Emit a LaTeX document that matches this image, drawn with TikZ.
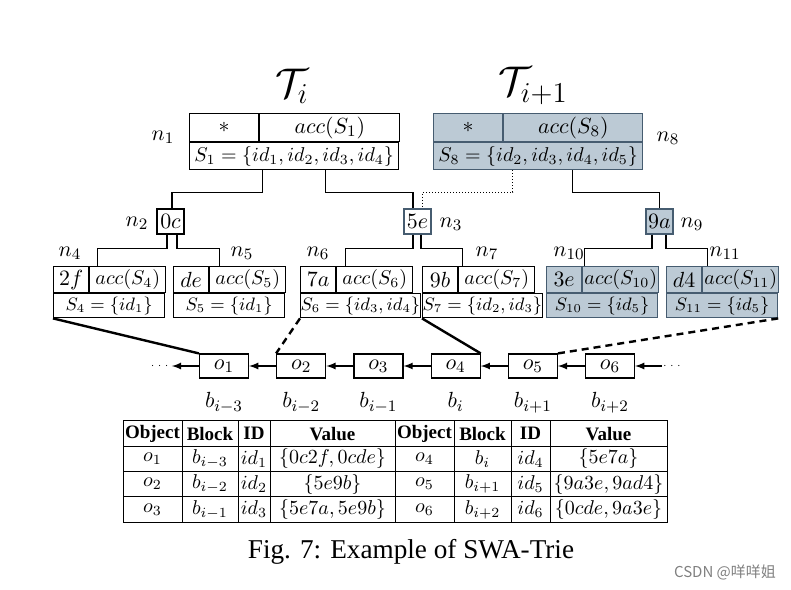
\documentclass[tikz,border=0pt]{standalone}
\usepackage[no-math]{fontspec}
\setmainfont{Liberation Serif}
\newfontfamily\cjkfont{Noto Sans CJK SC}
\usepackage{amsmath}
\usepackage{amssymb}
\usetikzlibrary{positioning}
\definecolor{trieline}{RGB}{70,92,112}
\definecolor{triefill}{RGB}{188,202,213}
\tikzstyle{cell} = [rectangle, draw=black, line width=0.6pt, inner sep=0pt, align=center]
\tikzstyle{graycell} = [draw=trieline, fill=triefill]
\tikzstyle{rootkey} = [cell, anchor=north west, minimum width=34.5pt, minimum height=14pt]
\tikzstyle{rootacc} = [cell, anchor=north west, minimum width=70pt, minimum height=14pt]
\tikzstyle{rootset} = [cell, anchor=north west, minimum width=104.5pt, minimum height=13.5pt, font=\fontsize{10.1}{12}\selectfont]
\tikzstyle{keycell} = [cell, minimum width=13.5pt, minimum height=12.5pt]
\tikzstyle{leafkey} = [cell, anchor=north west, minimum width=17.5pt, minimum height=13pt]
\tikzstyle{leafacc} = [cell, anchor=north west, minimum width=38pt, minimum height=13pt, font=\fontsize{10}{12}\selectfont]
\tikzstyle{leafset} = [cell, anchor=north west, minimum width=55.5pt, minimum height=12pt, font=\fontsize{9}{11}\selectfont]
\tikzstyle{blockcell} = [cell, minimum width=24.5pt, minimum height=12pt]
\tikzstyle{ellip} = [inner sep=0pt, font=\fontsize{5}{6}\selectfont]
\tikzstyle{link} = [line width=0.6pt]
\tikzstyle{sharelink} = [line width=0.5pt, densely dotted]
\tikzstyle{objref} = [line width=1.2pt]
\tikzstyle{objrefdash} = [objref, dash pattern=on 3.5pt off 2.5pt]
\tikzstyle{nextarrow} = [->, >=latex, line width=0.6pt]
\tikzstyle{tcell} = [cell, line width=0.5pt, minimum height=12.625pt, font=\fontsize{10}{12}\selectfont]
\tikzstyle{thead} = [tcell, font=\fontsize{9.5}{12}\selectfont\bfseries]
\tikzstyle{wobj} = [minimum width=29.5pt]
\tikzstyle{wblk} = [minimum width=28pt]
\tikzstyle{wid} = [minimum width=16pt]
\tikzstyle{wval} = [minimum width=62.5pt]
\tikzstyle{wobjb} = [minimum width=29.5pt]
\tikzstyle{wblkb} = [minimum width=28.5pt]
\tikzstyle{widb} = [minimum width=19.5pt]
\tikzstyle{wvalb} = [minimum width=58.5pt]

\begin{document}
\begin{tikzpicture}[x=0.5pt, y=-0.5pt, font=\fontsize{11}{13}\selectfont]
\useasboundingbox (0,0) rectangle (791,589);
% Trie titles
\node (ti) at (292,86) {\fontsize{20}{24}\selectfont $\mathcal{T}_i$};
\node (tii) at (533,86) {\fontsize{20}{24}\selectfont $\mathcal{T}_{i+1}$};
% Root n1, {key, acc, set}
\node[rootkey] (n1k) at (189,113) {$*$};
\node[rootacc] (n1a) at (n1k.north east) {$acc(S_1)$};
\node[rootset] (n1s) at (n1k.south west) {$S_1=\{id_1,id_2,id_3,id_4\}$};
\node (l1) at (163,137) {$n_1$};
% Root n8, {key, acc, set}
\node[rootkey, graycell] (n8k) at (433,113) {$*$};
\node[rootacc, graycell, minimum width=69.5pt] (n8a) at (n8k.north east) {$acc(S_8)$};
\node[rootset, graycell] (n8s) at (n8k.south west) {$S_8=\{id_2,id_3,id_4,id_5\}$};
\node (l8) at (668,138) {$n_8$};
% Inner nodes
\node[keycell] (n2) at (170.5,221.5) {$0c$};
\node (l2) at (137,223) {$n_2$};
\node[keycell, draw=trieline] (n3) at (417.5,221.5) {$5e$};
\node (l3) at (451,224) {$n_3$};
\node[keycell, graycell] (n9) at (659.5,221.5) {$9a$};
\node (l9) at (692,224) {$n_9$};
% Leaves, {key, acc, set}
\node[leafkey] (n4k) at (53,266) {$2f$};
\node[leafacc] (n4a) at (n4k.north east) {$acc(S_4)$};
\node[leafset] (n4s) at (n4k.south west) {$S_4=\{id_1\}$};
\node (l4) at (70,253) {$n_4$};
\node[leafkey] (n5k) at (173,266) {$de$};
\node[leafacc] (n5a) at (n5k.north east) {$acc(S_5)$};
\node[leafset] (n5s) at (n5k.south west) {$S_5=\{id_1\}$};
\node (l5) at (242,253) {$n_5$};
\node[leafkey] (n6k) at (300,266) {$7a$};
\node[leafacc] (n6a) at (n6k.north east) {$acc(S_6)$};
\node[leafset] (n6s) at (n6k.south west) {$S_6=\{id_3,id_4\}$};
\node (l6) at (318,253) {$n_6$};
\node[leafkey] (n7k) at (422,266) {$9b$};
\node[leafacc] (n7a) at (n7k.north east) {$acc(S_7)$};
\node[leafset] (n7s) at (n7k.south west) {$S_7=\{id_2,id_3\}$};
\node (l7) at (487,253) {$n_7$};
\node[leafkey, graycell] (n10k) at (546,266) {$3e$};
\node[leafacc, graycell] (n10a) at (n10k.north east) {$acc(S_{10})$};
\node[leafset, graycell] (n10s) at (n10k.south west) {$S_{10}=\{id_5\}$};
\node (l10) at (569,253) {$n_{10}$};
\node[leafkey, graycell] (n11k) at (666,266) {$d4$};
\node[leafacc, graycell] (n11a) at (n11k.north east) {$acc(S_{11})$};
\node[leafset, graycell] (n11s) at (n11k.south west) {$S_{11}=\{id_5\}$};
\node (l11) at (725,253) {$n_{11}$};
% Trie edges
\draw[link] ([xshift=-15.75pt]n1s.south) -- ++(0,22) -| ([xshift=0.75pt]n2.north);
\draw[link] ([xshift=15.75pt]n1s.south) -- ++(0,22) -| ([xshift=-2.25pt]n3.north);
\draw[sharelink] ([xshift=-12.75pt]n8s.south) -- ++(0,22) -| ([xshift=2.25pt]n3.north);
\draw[link] ([xshift=17.25pt]n8s.south) -- ++(0,22) -| (n9.north);
\draw[link] ([xshift=-1.75pt]n2.south) -- ++(0,14) -| ([xshift=4pt]n4k.north east);
\draw[link] ([xshift=3.25pt]n2.south) -- ++(0,14) -| ([xshift=5pt]n5k.north east);
\draw[link] ([xshift=-2.25pt]n3.south) -- ++(0,14) -| ([xshift=4.5pt]n6k.north east);
\draw[link] ([xshift=1.75pt]n3.south) -- ++(0,14) -| ([xshift=2pt]n7k.north east);
\draw[link] ([xshift=-3.75pt]n9.south) -- ++(0,14) -| ([xshift=1pt]n10k.north east);
\draw[link] ([xshift=3.25pt]n9.south) -- ++(0,14) -| ([xshift=2.5pt]n11k.north east);
% Block chain
\node[blockcell] (o1) at (224,366) {$o_1$};
\node[blockcell, right=13.5pt of o1] (o2) {$o_2$};
\node[blockcell, right=13.5pt of o2] (o3) {$o_3$};
\node[blockcell, right=13.5pt of o3] (o4) {$o_4$};
\node[blockcell, right=13.5pt of o4] (o5) {$o_5$};
\node[blockcell, right=13.5pt of o5] (o6) {$o_6$};
\node[ellip, left=13.5pt of o1] (dl) {$\cdots$};
\node[ellip, right=13.5pt of o6] (dr) {$\cdots$};
\draw[nextarrow] (o1) -- (dl);
\draw[nextarrow] (o2) -- (o1);
\draw[nextarrow] (o3) -- (o2);
\draw[nextarrow] (o4) -- (o3);
\draw[nextarrow] (o5) -- (o4);
\draw[nextarrow] (o6) -- (o5);
\draw[nextarrow] (dr) -- (o6);
\node[below=3.5pt of o1] (b1) {$b_{i-3}$};
\node[below=3.5pt of o2] (b2) {$b_{i-2}$};
\node[below=3.5pt of o3] (b3) {$b_{i-1}$};
\node[below=3.5pt of o4] (b4) {$b_{i}$};
\node[below=3.5pt of o5] (b5) {$b_{i+1}$};
\node[below=3.5pt of o6] (b6) {$b_{i+2}$};
% Leaves to objects
\draw[objref] (n4s.south west) -- (o1.north west);
\draw[objrefdash] (n6s.south west) -- (o2.north west);
\draw[objref] (n7s.south west) -- (o4.north east);
\draw[objrefdash] (n11s.south east) -- (o5.north east);
% Table header
\node[thead, wobj] (h1) at (152.5,433.6) {Object};
\node[thead, wblk] (h2) at (210,433.6) {Block};
\node[thead, wid] (h3) at (254,433.6) {ID};
\node[thead, wval] (h4) at (332.5,433.6) {Value};
\node[thead, wobjb] (h5) at (424.5,433.6) {Object};
\node[thead, wblkb] (h6) at (482.5,433.6) {Block};
\node[thead, widb] (h7) at (530.5,433.6) {ID};
\node[thead, wvalb] (h8) at (608.5,433.6) {Value};
% Row 1, {o1, o4}
\node[tcell, wobj] (r1c1) at (152.5,458.9) {$o_1$};
\node[tcell, wblk] (r1c2) at (210,458.9) {$b_{i-3}$};
\node[tcell, wid] (r1c3) at (254,458.9) {$id_1$};
\node[tcell, wval] (r1c4) at (332.5,458.9) {$\{0c2f,0cde\}$};
\node[tcell, wobjb] (r1c5) at (424.5,458.9) {$o_4$};
\node[tcell, wblkb] (r1c6) at (482.5,458.9) {$b_{i}$};
\node[tcell, widb] (r1c7) at (530.5,458.9) {$id_4$};
\node[tcell, wvalb] (r1c8) at (608.5,458.9) {$\{5e7a\}$};
% Row 2, {o2, o5}
\node[tcell, wobj] (r2c1) at (152.5,484.1) {$o_2$};
\node[tcell, wblk] (r2c2) at (210,484.1) {$b_{i-2}$};
\node[tcell, wid] (r2c3) at (254,484.1) {$id_2$};
\node[tcell, wval] (r2c4) at (332.5,484.1) {$\{5e9b\}$};
\node[tcell, wobjb] (r2c5) at (424.5,484.1) {$o_5$};
\node[tcell, wblkb] (r2c6) at (482.5,484.1) {$b_{i+1}$};
\node[tcell, widb] (r2c7) at (530.5,484.1) {$id_5$};
\node[tcell, wvalb] (r2c8) at (608.5,484.1) {$\{9a3e,9ad4\}$};
% Row 3, {o3, o6}
\node[tcell, wobj] (r3c1) at (152.5,509.4) {$o_3$};
\node[tcell, wblk] (r3c2) at (210,509.4) {$b_{i-1}$};
\node[tcell, wid] (r3c3) at (254,509.4) {$id_3$};
\node[tcell, wval] (r3c4) at (332.5,509.4) {$\{5e7a,5e9b\}$};
\node[tcell, wobjb] (r3c5) at (424.5,509.4) {$o_6$};
\node[tcell, wblkb] (r3c6) at (482.5,509.4) {$b_{i+2}$};
\node[tcell, widb] (r3c7) at (530.5,509.4) {$id_6$};
\node[tcell, wvalb] (r3c8) at (608.5,509.4) {$\{0cde,9a3e\}$};
% Caption
\node (cap) at (411,552) {\fontsize{13.6}{16}\selectfont Fig. 7: Example of SWA-Trie};
\node[text=gray] (mark) at (725,572) {\cjkfont\fontsize{7.5}{9}\selectfont CSDN @咩咩姐};
\end{tikzpicture}
\end{document}
